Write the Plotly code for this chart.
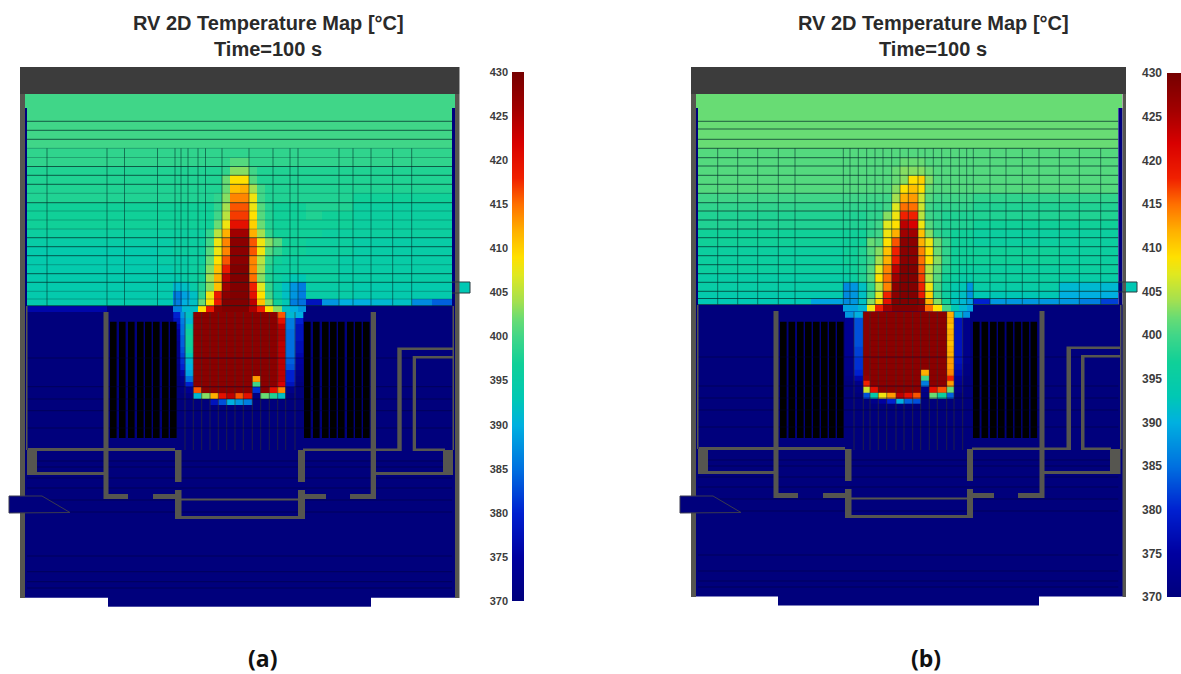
import plotly.graph_objects as go

N = None
TITLE_1 = "RV 2D Temperature Map [°C]"
TITLE_2 = "Time=100 s"
PANEL_LABELS = ["(a)", "(b)"]
SCALE_TICKS = [370, 375, 380, 385, 390, 395, 400, 405, 410, 415, 420, 425, 430]

# ---- panel (a): upper plenum cells ----
a_x = [27,47,66,86,107,124.5,141,157.5,173,182,190,197.5,205.5,213.5,221.7,230,239.5,249,257,265,273,281.5,290,298,305.7,321.7,339,353,371,392.7,411.7,431.7,452]
a_y = [108,121.3,130.3,139.3,148.3,157.5,166.5,175.3,184.3,193.3,202.7,211,220,229,237.7,246.7,255.7,264.7,273.7,282.3,291.3,299,305.7,312]
a_t = [
[400,400,400,400,400,400,400,400, 400,400,400, 400,400,400,400, 400,400, 400,400,400,400, 400,400,400, 400,400,400,400,400,400,400,400],
[400,400,400,400,400,400,400,400, 400,400,400, 400,400,400,400, 400,400, 400,400,400,400, 400,400,400, 400,400,400,400,400,400,400,400],
[400,400,400,400,400,400,400,400, 400,400,400, 400,400,400,400, 400,400, 400,400,400,400, 400,400,400, 400,400,400,400,400,400,400,400],
[400,400,400,400,400,400,400,400, 400,400,400, 400,400,400,400, 400,400, 400,400,400,400, 400,400,400, 400,400,400,400,400,400,400,400],
[399,399,399,399,399,399,399,399, 399,399,399, 399,399,399,399, 399,399, 399,399,399,399, 399,399,399, 399,399,399,399,399,399,399,399],
[399,399,399,399,399,399,399,399, 399,399,399, 399,399,399,399, 401,401, 399,399,399,399, 399,399,399, 399,399,399,399,399,399,399,399],
[398,398,398,398,398,398,398,398, 398,398,398, 398,398,398,399, 403,403, 400,398,398,398, 398,398,398, 398,398,398,398,398,398,398,398],
[398,398,398,398,398,398,398,398, 398,398,398, 398,398,398,402, 409,409, 401,398,398,398, 398,398,398, 398,398,398,398,398,398,398,398],
[398,398,398,398,398,398,398,398, 398,398,398, 398,398,398,402, 411,412, 404,400,398,398, 398,398,398, 398,398,398,398,398,398,398,398],
[398,398,398,398,398,398,398,398, 398,398,398, 398,398,399,403, 414,414, 408,400,398,398, 398,398,398, 398,398,398,397,397,397,397,397],
[397,397,397,397,397,397,397,397, 397,397,397, 397,397,399,404, 416,416, 408,401,398,397, 397,397,397, 398,398,398,396,396,396,396,396],
[397,397,397,397,397,397,397,397, 397,397,397, 397,397,400,405, 417,417, 409,401,398,397, 397,397,397, 398,397,397,396,396,396,396,396],
[397,397,397,397,397,397,397,397, 397,397,397, 397,397,402,408, 420,420, 410,402,398,397, 397,397,397, 397,397,397,396,396,396,396,396],
[396,396,396,396,396,396,396,396, 396,396,396, 396,399,405,412, 426,426, 412,404,399,397, 397,397,397, 397,396,396,396,396,396,396,396],
[395,395,395,395,395,395,395,395, 396,396,396, 396,400,408,414, 428,428, 416,408,403,401, 397,397,397, 396,396,396,395,395,395,395,395],
[394,394,394,394,394,394,394,395, 396,396,396, 396,401,408,414, 428,428, 416,408,401,399, 397,397,397, 396,396,396,395,395,395,395,395],
[394,394,394,394,394,394,394,395, 395,395,396, 396,402,409,416, 428,428, 414,405,399,397, 396,396,396, 396,396,395,395,395,395,395,395],
[394,394,394,394,394,394,394,394, 395,395,396, 397,403,411,419, 429,429, 414,404,398,396, 396,396,396, 396,396,395,395,395,395,395,395],
[394,394,394,394,394,394,394,394, 394,395,396, 397,404,412,424, 429,429, 415,403,398,396, 395,393,393, 396,396,395,395,395,395,395,395],
[394,394,394,394,394,394,394,394, 391,392,395, 398,403,411,426, 429,429, 418,407,399,395, 392,388,386, 395,395,395,394,394,394,394,394],
[394,394,394,394,394,394,394,394, 386,389,392, 399,408,419,428, 429,429, 420,409,400,395, 392,388,386, 395,395,395,394,394,394,394,394],
[394,394,394,394,394,394,394,393, 386,390,392, 402,409,419,429, 429,429, 424,411,403,397, 393,386,385, 378,388,390,390,391,392,387,384],
[376,376,376,376,N,N,N,N, 386,391,392, 409,419,428,429, 429,429, 425,418,409,403, 392,390,388, N,N,N,N,N,N,N,N],
]
# ---- panel (a): core cells ----
a_core_x = [173.3,180,185,193.3,201.7,210,218.3,226.7,235,243.3,252.3,260.7,269.3,277.7,285.7,295,303]
a_core_y = [312,317.8,323.6,329.4,335.2,341,346.8,352.6,358.4,364.2,370,375.8,381.6,387.4,393.2,399,404.8]
a_core_t = [
[380,388,392, 428,428,428,428,428,428,428,428,428,428,416, 391,390],
[378,386,391, 428,428,428,428,428,428,428,428,428,428,420, 386,380],
[376,385,394, 428,428,428,428,428,428,428,428,428,428,424, 386,378],
[374,385,396, 428,428,428,428,428,428,428,428,428,428,425, 385,378],
[373,384,397, 428,428,428,428,428,428,428,428,428,428,425, 385,378],
[372,384,397, 428,428,428,428,428,428,428,428,428,428,424, 385,377],
[372,383,396, 428,428,428,428,428,428,428,428,428,428,424, 385,377],
[372,382,393, 428,428,428,428,428,428,428,428,428,428,424, 385,376],
[372,381,391, 428,428,428,428,428,428,428,428,428,428,424, 384,375],
[371,380,390, 428,428,428,428,428,428,428,428,428,428,424, 383,374],
[371,376,389, 428,428,428,428,428,428,428,428,428,428,424, 380,372],
[370,373,385, 428,428,428,428,428,428,428,413,428,428,424, 380,371],
[370,372,380, 428,428,428,428,428,428,428,400,428,428,422, 378,370],
[370,371,373, 416,428,428,428,428,428,428,381,428,420,414, 372,370],
[370,370,371, 391,403,412,420,424,416,420,371,402,398,392, 370,370],
[370,370,370, 370,370,378,383,390,388,386,370,370,370,370, 370,370],
]
# ---- panel (b): upper plenum cells ----
b_x = [27,46.7,66.7,86.7,107.3,124,140,156,172.3,179,187.3,195.7,204,212,220.7,229,237.3,247,254,262.3,270.7,279.7,288.3,295.7,302.3,319,335,351.3,368,388.3,408.3,429.7,447.3]
b_y = [107.5,121.3,129,139.3,148.3,157.7,166,175.3,184.3,193.3,202.7,211,220,229,237.7,246.7,255.7,264.7,273.7,282.3,291.3,298.5,304.5,311.7]
b_t = [
[402,402,402,402,402,402,402,402, 402,402,402, 402,402,402,402, 402,402, 402,402,402,402, 402,402,402, 402,402,402,402,402,402,402,402],
[402,402,402,402,402,402,402,402, 402,402,402, 402,402,402,402, 402,402, 402,402,402,402, 402,402,402, 402,402,402,402,402,402,402,402],
[402,402,402,402,402,402,402,402, 402,402,402, 402,402,402,402, 402,402, 402,402,402,402, 402,402,402, 402,402,402,402,402,402,402,402],
[402,402,402,402,402,402,402,402, 402,402,402, 402,402,402,402, 402,402, 402,402,402,402, 402,402,402, 402,402,402,402,402,402,402,402],
[401,401,401,401,401,401,401,401, 401,401,401, 401,401,401,401, 401,401, 401,401,401,401, 401,401,401, 401,401,401,401,401,401,401,401],
[401,401,401,401,401,401,401,401, 401,401,401, 401,401,401,401, 402,402, 402,401,401,401, 401,401,401, 401,401,401,401,401,401,401,401],
[401,401,401,401,401,401,401,401, 401,401,401, 401,401,401,402, 403,403, 403,402,401,401, 401,401,401, 401,401,401,401,401,401,401,401],
[401,401,401,401,401,401,401,401, 401,401,401, 401,401,401,402, 403,409, 410,403,401,401, 401,401,401, 401,401,401,401,401,401,401,401],
[401,401,401,401,401,401,401,401, 401,401,401, 401,401,401,403, 409,411, 409,402,401,401, 401,401,401, 401,401,401,401,401,401,401,401],
[400,400,400,400,400,400,400,400, 400,400,400, 400,400,400,404, 412,413, 406,401,400,400, 400,400,400, 399,399,399,399,399,399,399,399],
[399,399,399,399,399,399,399,399, 399,399,399, 399,399,400,407, 415,415, 406,400,399,399, 399,399,399, 398,398,398,398,398,398,398,398],
[398,398,398,398,398,398,398,398, 398,398,398, 399,399,403,408, 418,418, 405,400,399,398, 398,398,398, 398,398,398,398,398,398,398,398],
[398,398,398,398,398,398,398,398, 398,398,398, 399,400,407,409, 424,422, 408,401,399,398, 398,398,398, 397,397,397,397,397,397,397,397],
[397,397,397,397,397,397,397,397, 397,397,397, 399,400,408,412, 426,426, 411,403,399,398, 397,397,397, 396,396,396,396,396,396,396,396],
[397,397,397,397,397,397,397,397, 397,397,397, 402,401,409,416, 428,428, 412,408,402,399, 397,397,397, 396,396,396,396,396,396,396,396],
[396,396,396,396,396,396,396,396, 397,397,398, 401,403,411,418, 428,428, 414,409,402,399, 397,397,397, 397,397,397,397,397,396,396,396],
[396,396,396,396,396,396,396,396, 397,397,398, 400,404,412,419, 428,428, 415,409,403,399, 397,397,397, 397,397,397,397,397,396,396,396],
[396,396,396,396,396,396,396,396, 396,397,398, 401,407,414,424, 429,429, 416,405,402,398, 397,396,396, 396,396,396,396,396,396,396,396],
[395,395,395,395,395,395,395,395, 395,396,398, 401,409,415,426, 429,429, 417,405,401,397, 396,395,395, 396,396,396,396,396,395,395,395],
[395,395,395,395,395,395,395,395, 387,388,392, 399,405,414,428, 429,429, 418,408,400,396, 394,393,388, 395,395,395,395,395,391,391,391],
[394,394,394,394,394,394,394,394, 387,388,392, 400,407,418,428, 429,429, 419,410,400,396, 393,392,388, 393,393,393,393,393,390,390,390],
[393,393,393,393,393,393,389,389, 387,388,392, 403,410,420,429, 429,429, 428,412,403,397, 392,391,389, 380,388,388,388,388,388,386,382],
[N,N,N,N,N,N,N,N, 389,389,391, 408,418,426,429, 429,429, 428,415,409,400, 393,391,389, N,N,N,N,N,N,N,N],
]
# ---- panel (b): core cells ----
b_core_x = [174,183,192.3,199,207.3,215.7,225,233,241.7,249.7,258.3,266.3,275.7,283,291.7,299]
b_core_y = [311.7,317.5,323.2,329,334.8,340.6,346.3,352.1,357.9,363.6,369.4,375.2,381,386.7,392.5,398.2,404]
b_core_t = [
[388,390, 428,428,428,428,428,428,428,428,428,428, 412, 391,388],
[373,383, 428,428,428,428,428,428,428,428,428,428, 412, 378,372],
[373,383, 428,428,428,428,428,428,428,428,428,428, 411, 378,372],
[373,383, 428,428,428,428,428,428,428,428,428,428, 412, 378,372],
[373,383, 428,428,428,428,428,428,428,428,428,428, 412, 378,372],
[373,383, 428,428,428,428,428,428,428,428,428,428, 411, 378,372],
[373,382, 428,428,428,428,428,428,428,428,428,428, 412, 378,372],
[373,382, 428,428,428,428,428,428,428,428,428,428, 412, 378,372],
[372,381, 428,428,428,428,428,428,428,428,428,428, 413, 378,372],
[372,381, 428,428,428,428,428,428,428,428,428,428, 413, 377,371],
[372,380, 428,428,428,428,428,428,428,412,428,428, 414, 376,371],
[371,376, 427,428,428,428,428,428,428,400,428,428, 418, 374,370],
[370,372, 418,428,428,428,428,428,428,386,428,428, 413, 373,370],
[370,371, 406,420,428,428,428,428,428,372,420,416, 402, 372,370],
[370,370, 383,394,408,413,424,420,416,371,402,396, 384, 370,370],
[370,370, 370,372,375,380,390,384,383,370,370,370, 370, 370,370],
]

# lower vessel blocks (all cells at the bottom of the scale)
a_low_x = [24,108.3,371,455]
a_low_y = [305.7,597.5,606.7]
b_low_x = [24,107,368,451.5]
b_low_y = [304.5,596.5,605]
low_t = [[370,370,370],[N,370,N]]

# top band and outlet nozzle
a_band = dict(x=[24,455], y=[94,108], z=[[400]])
b_band = dict(x=[24,451], y=[94,107.5], z=[[402]])
a_nozzle = dict(x=[452,470], y=[282,293], z=[[393]])
b_nozzle = dict(x=[447,466], y=[282,292], z=[[393]])

# grid lines
a_grid_v = [47,107,124.5,157.5,175,181,188,198,205.5,222,249,273,290,298,339,353,371,392.7,411.7]
a_grid_h_strong = [121.3,130.3,139.3,166.5,175.3,184.3,202.7,237.7,246.7,255.7,273.7,282.3,305.7]
a_grid_h_faint = [148.3,157.5,193.3,211,220,229,264.7,291.3,299]
b_grid_v = [46.7,66.7,86.7,107.3,124,172.3,179,187.3,195.7,204,212,220.7,229,237.3,247,254,262.3,270.7,279.7,288.3,295.7,302.3,319,335,351.3,368,388.3,408.3,429.7]
b_grid_h_strong = [121.3,129,139.3,148.3,157.7,166,175.3,184.3,193.3,202.7,211,220,229,237.7,246.7,255.7,264.7,273.7,282.3,291.3,298.5,304.5]
b_grid_h_faint = []
a_core_v = [185,193.3,201.7,210,218.3,226.7,235,243.3,252.3,260.7,269.3,277.7,285.7,295]
b_core_v = [183,192.3,199,207.3,215.7,225,233,241.7,249.7,258.3,266.3,275.7,283,291.7]
a_low_h = [358,386.7,399,410.7,428,461,467,478,488,500,512,556,571.7,581.7,588]
b_low_h = [357,386,398,410,427,460,466,477,487,499,511,555,571,581,587]

# fuel rods
a_rod_x = [110,119,128,137,145,153,162,170,304,313,322,330,338,347,355,363]
b_rod_x = [109,117.5,126,134,142,150,158,166,302,310.5,319,327,335.5,343.5,351.5,359.5]

# structure, as x0, y0, x1, y1
a_walls = [(20,94,25,598),(455,94,459.5,598),(26,306,27.5,450),(103.5,312,108.5,499),(103.5,494,128,499),(28,448,175,451),
(27,450,37,475),(27,472,103.5,475),(175,450,181.5,482),(175,490,181.5,519),(153,494,175,499),(181,498.5,298,500.5),(175,516,305,519),
(298,450,305,482),(298,490,305,519),(305,494,326,499),(350,494,376,499),(370.7,312,376,499),(303,448.5,401.7,451),(412.7,448.5,445,451),
(397.3,348,401.7,451),(397.3,347.5,453,350),(412.7,356.5,416,451),(412.7,356,453,358.5),(443,450,453,475),(376,472,453,475),(452.5,306,454,450)]
b_walls = [(20,94,25,597),(451.5,94,455,597),(26,305,27.5,449),(102.5,311,107.5,498),(102.5,493,127,498),(28,447,174,450),
(27,449,37,474),(27,471,102.5,474),(174,449,180.5,481),(174,489,180.5,518),(152,493,174,498),(180,497.5,296,499.5),(174,515,302,518),
(296,449,302,481),(296,489,302,518),(302,493,323,498),(347,493,373,498),(368.5,311,373.5,498),(301,447.5,400,450),(410,447.5,440,450),
(395.5,347,400,450),(395.5,346.5,449.5,349),(410,355.5,413.5,450),(410,355,449.5,357.5),(439,449,449.5,474),(373,471,449.5,474),(449,305,450.5,449)]
a_top = [(20,67,459.5,94)]
b_top = [(20,67,455,94)]
a_lining = [(23,108,27,306),(452,108,455,306)]
b_lining = [(23,108,27,305),(447.3,108,451.5,305)]
inlet_x = [9,42,70,42,9,9]
inlet_y = [496,496,512.5,513,513,496]

COLORSCALE_STOPS = [(370,"#00007c"),(375,"#0000a0"),(380,"#0020d0"),(385,"#0070e0"),(390,"#00b0e0"),(393,"#00c8b4"),
(397,"#10d098"),(400,"#40d688"),(402,"#68dc74"),(404,"#a4e050"),(407,"#e0e820"),(409,"#ffe000"),(412,"#ffb000"),(415,"#ff7000"),
(418,"#f02000"),(422,"#d80000"),(426,"#a00000"),(430,"#760000")]
colorscale = [[(v-370)/60, c] for v, c in COLORSCALE_STOPS]
GREY = "#565650"

fig = go.Figure()

def rects(lst, color, xa):
    xs, ys = [], []
    for x0, y0, x1, y1 in lst:
        xs += [x0, x1, x1, x0, x0, None]
        ys += [y0, y0, y1, y1, y0, None]
    fig.add_trace(go.Scatter(x=xs, y=ys, xaxis=xa, yaxis="y", mode="lines", fill="toself", fillcolor=color,
                             line=dict(width=0, color=color), hoverinfo="skip", showlegend=False))

def lines(vals, a, b, vertical, color, width, xa):
    xs, ys = [], []
    for v in vals:
        if vertical:
            xs += [v, v, None]; ys += [a, b, None]
        else:
            xs += [a, b, None]; ys += [v, v, None]
    fig.add_trace(go.Scatter(x=xs, y=ys, xaxis=xa, yaxis="y", mode="lines",
                             line=dict(width=width, color=color), hoverinfo="skip", showlegend=False))

def heat(x, y, z, xa):
    fig.add_trace(go.Heatmap(x=x, y=y, z=z, xaxis=xa, yaxis="y", coloraxis="coloraxis", hoverongaps=False))

panels = [
 ("x", a_x, a_y, a_t, a_core_x, a_core_y, a_core_t, a_low_x, a_low_y, a_band, a_nozzle, a_grid_v, a_grid_h_strong, a_grid_h_faint, a_core_v, a_low_h, a_rod_x, a_walls, a_top, a_lining, 452, 305.7, 597.5, 312),
 ("x2", b_x, b_y, b_t, b_core_x, b_core_y, b_core_t, b_low_x, b_low_y, b_band, b_nozzle, b_grid_v, b_grid_h_strong, b_grid_h_faint, b_core_v, b_low_h, b_rod_x, b_walls, b_top, b_lining, 447.3, 304.5, 596.5, 311.7),
]
for (xa, fx, fy, ft, cx, cy, ct, lx, ly, band, noz, gv, gs, gf, cv, lh, rods, walls, top, lining, xr, ybot, yend, ycore) in panels:
    heat(lx, ly, low_t, xa)
    heat(fx, fy, ft, xa)
    heat(cx, cy, ct, xa)
    heat(band["x"], band["y"], band["z"], xa)
    heat(noz["x"], noz["y"], noz["z"], xa)
    rects([(x, 321.7, x+6.6, 438) for x in rods], "#000000", xa)
    lines(gf, 27, xr, False, "rgba(0,50,50,0.3)", 1, xa)
    lines(gs, 27, xr, False, "rgba(0,40,40,0.7)", 1, xa)
    lines(gv, 148.3, ybot, True, "rgba(0,40,40,0.55)", 1, xa)
    lines(cv, ycore, 450, True, "rgba(50,50,45,0.6)", 1, xa)
    lines(cy[1:-1], cx[3], cx[-3], False, "rgba(40,0,0,0.12)", 1, xa)
    lines(lh, 27, xr, False, "rgba(0,0,50,0.45)", 1, xa)
    rects(lining, "#00007c", xa)
    rects(top, "#3c3c3c", xa)
    rects(walls, GREY, xa)
    fig.add_trace(go.Scatter(x=inlet_x, y=inlet_y, xaxis=xa, yaxis="y", mode="lines", fill="toself", fillcolor="#00007c",
                             line=dict(width=1, color="#3a3a50"), hoverinfo="skip", showlegend=False))
    fig.add_trace(go.Scatter(x=[noz["x"][0], noz["x"][1], noz["x"][1], noz["x"][0]], y=[noz["y"][0], noz["y"][0], noz["y"][1], noz["y"][1]],
                             xaxis=xa, yaxis="y", mode="lines", line=dict(width=1, color="#2a3a40"), hoverinfo="skip", showlegend=False))

# colour scale strips
for xa, ya in (("x3", "y3"), ("x4", "y4")):
    fig.add_trace(go.Heatmap(x=[0, 1], y=SCALE_TICKS, z=[[t, t] for t in SCALE_TICKS], xaxis=xa, yaxis=ya,
                             coloraxis="coloraxis", zsmooth="best", hoverinfo="skip"))

W, H = 1181, 674
def dx(a, b): return [a/W, b/W]
def dy(top, bottom): return [1-bottom/H, 1-top/H]
hidden = dict(visible=False, showgrid=False, zeroline=False, fixedrange=True)
tick_font = dict(family="Liberation Sans", size=11, color="#3c3c3c", weight="bold")

fig.update_layout(
    width=W, height=H, margin=dict(l=0, r=0, t=0, b=0, autoexpand=False), paper_bgcolor="white", plot_bgcolor="white", showlegend=False,
    coloraxis=dict(colorscale=colorscale, cmin=370, cmax=430, showscale=False),
    xaxis=dict(domain=dx(0, 500), range=[0, 500], **hidden),
    xaxis2=dict(domain=dx(671, 1171), range=[0, 500], **hidden),
    yaxis=dict(domain=dy(60, 620), range=[620, 60], **hidden),
    xaxis3=dict(domain=dx(512, 524), range=[0, 1], **hidden),
    yaxis3=dict(domain=dy(72, 601), range=[370, 430], anchor="free", position=512/W, side="left", tickvals=SCALE_TICKS,
                ticks="", showgrid=False, zeroline=False, showline=False, tickfont=tick_font, ticklabelstandoff=4),
    xaxis4=dict(domain=dx(1167, 1181), range=[0, 1], **hidden),
    yaxis4=dict(domain=dy(73, 597), range=[370, 430], anchor="free", position=1167/W, side="left", tickvals=SCALE_TICKS,
                ticks="", showgrid=False, zeroline=False, showline=False, tickfont=dict(tick_font, size=12), ticklabelstandoff=5),
)
for cx_, label in ((268, PANEL_LABELS[0]), (933, PANEL_LABELS[1])):
    for yy, txt in ((23, TITLE_1), (49, TITLE_2)):
        fig.add_annotation(xref="paper", yref="paper", x=cx_/W, y=1-yy/H, text=f"<b>{txt}</b>", showarrow=False,
                           font=dict(family="Liberation Sans", size=20, color="#2a2a2a"), xanchor="center", yanchor="middle")
for cx_, label in ((262, PANEL_LABELS[0]), (926, PANEL_LABELS[1])):
    fig.add_annotation(xref="paper", yref="paper", x=cx_/W, y=1-658/H, text=f"<b>{label}</b>", showarrow=False,
                       font=dict(family="Open Sans", size=23, color="#111111"), xanchor="center", yanchor="middle")

fig.write_html("out.html", post_script="document.body.style.margin='0';document.body.style.overflow='hidden';", config=dict(displayModeBar=False))
